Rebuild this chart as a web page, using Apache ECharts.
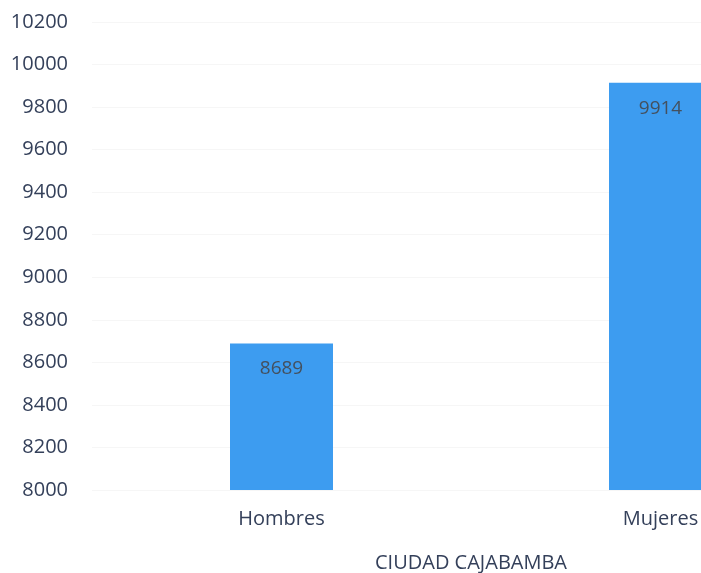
<!DOCTYPE html>
<html><head><meta charset="utf-8">
<script src="https://cdn.jsdelivr.net/npm/echarts@6/dist/echarts.min.js"></script>
<style>html,body{margin:0;padding:0;background:#fff}#c{width:701px;height:573px}</style>
</head><body><div id="c"></div>
<script>
const categories = ['Hombres', 'Mujeres'];
const values = [8689, 9914];
const axisName = 'CIUDAD CAJABAMBA';
const yMin = 8000, yMax = 10200, yStep = 200;

const chart = echarts.init(document.getElementById('c'));
const font = '"Open Sans", "Noto Sans", sans-serif';
const txt = '#34405a';
chart.setOption({
  animation: false,
  grid: { left: 92, top: 22, width: 758, height: 468, containLabel: false, outerBoundsMode: 'none' },
  xAxis: {
    type: 'category', data: categories,
    name: axisName, nameLocation: 'middle', nameGap: 63,
    nameTextStyle: { color: txt, fontSize: 20, fontFamily: font },
    axisLine: { show: false }, axisTick: { show: false },
    axisLabel: { color: txt, fontSize: 20, fontFamily: font, margin: 19 }
  },
  yAxis: {
    type: 'value', min: yMin, max: yMax, interval: yStep,
    axisLine: { show: false }, axisTick: { show: false },
    splitLine: { show: true, lineStyle: { color: '#f6f6f6' } },
    axisLabel: { color: txt, fontSize: 20, fontFamily: font, margin: 24, formatter: v => String(v) }
  },
  series: [{
    type: 'bar', data: values, barWidth: 103,
    itemStyle: { color: '#3d9cf0' },
    label: { show: true, position: 'insideTop', distance: 16, color: '#44505e', fontSize: 19, fontFamily: font }
  }]
});
</script></body></html>
